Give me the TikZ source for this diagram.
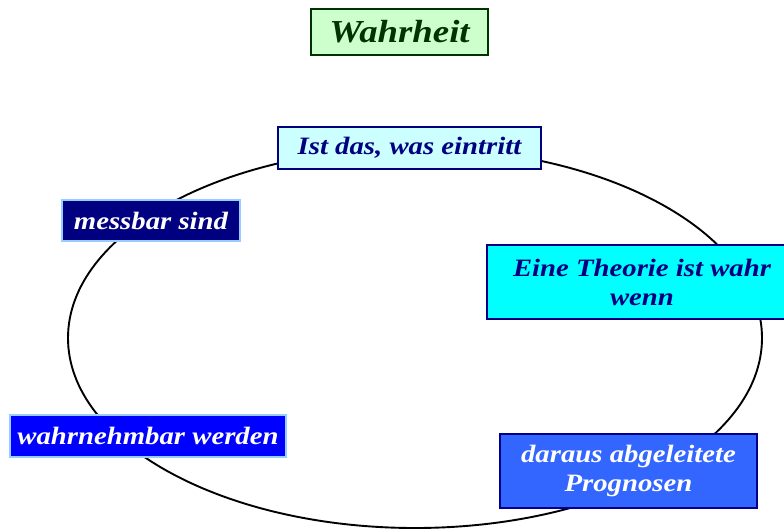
\documentclass[tikz,border=0pt]{standalone}
\usepackage{fontspec}
\setmainfont[FakeStretch=1.15]{Liberation Serif}
\definecolor{titlefill}{HTML}{CCFFCC}
\definecolor{titledraw}{HTML}{003300}
\definecolor{paleCyan}{HTML}{CCFFFF}
\definecolor{aqua}{HTML}{00FFFF}
\definecolor{navy}{HTML}{000080}
\definecolor{skyline}{HTML}{99CCFF}
\definecolor{royal}{HTML}{3366FF}
\definecolor{pureblue}{HTML}{0000FF}
\begin{document}
\begin{tikzpicture}[x=1pt,y=-1pt,
  box/.style={draw, line width=2pt, inner sep=0pt, align=center,
    font=\fontsize{25}{29}\selectfont\bfseries\itshape},
  lightbox/.style={box, draw=navy, text=navy},
  darkbox/.style={box, draw=skyline, text=white}]
  \clip (0,0) rectangle (784,530);
  \fill[white] (0,0) rectangle (784,530);
  % the cycle
  \draw[line width=1.9pt] (415,338) ellipse [x radius=347, y radius=190];
  % title
  \node[box, fill=titlefill, draw=titledraw, text=titledraw,
    minimum width=177pt, minimum height=46pt,
    font=\fontsize{32}{34}\selectfont\bfseries\itshape] (title) at (399.5,32) {Wahrheit};
  % steps around the ellipse
  \node[lightbox, fill=paleCyan, minimum width=263pt, minimum height=42pt]
    (eintritt) at (409.5,148) {Ist das, was eintritt};
  \node[lightbox, fill=aqua, minimum width=310pt, minimum height=74pt]
    (theorie) at (642,282) {Eine Theorie ist wahr\\wenn};
  \node[lightbox, fill=royal, text=white, draw=navy!90!blue, minimum width=257pt, minimum height=74pt]
    (prognosen) at (628.5,471) {daraus abgeleitete\\Prognosen};
  \node[darkbox, fill=pureblue, minimum width=276pt, minimum height=42pt]
    (wahrnehmbar) at (148,436) {wahrnehmbar werden};
  \node[darkbox, fill=navy, minimum width=178pt, minimum height=41pt]
    (messbar) at (151,220.5) {messbar sind};
\end{tikzpicture}
\end{document}
